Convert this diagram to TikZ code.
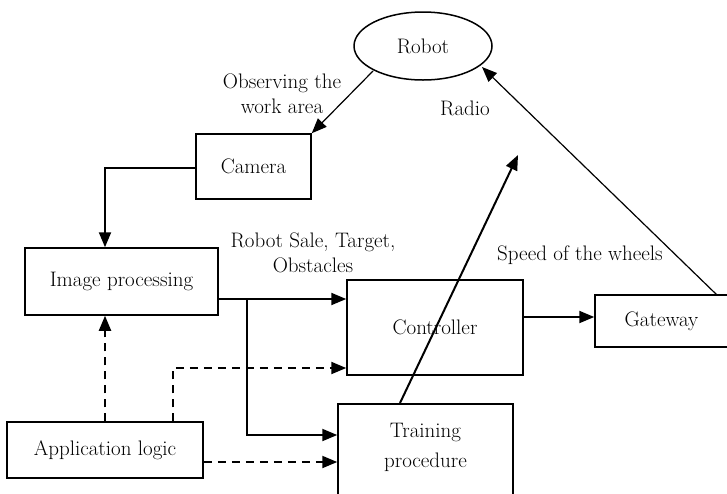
\documentclass[tikz,border=0pt]{standalone}
\usetikzlibrary{arrows.meta,shapes.geometric}
\begin{document}
\begin{tikzpicture}[x=1pt,y=-1pt,
  font=\fontsize{21}{25}\selectfont,
  box/.style={draw,line width=1.5pt,rectangle,inner sep=0pt,align=center},
  flow/.style={line width=2pt,-{Triangle[length=15pt,width=12pt]}},
  ctrl/.style={line width=2pt,dash pattern=on 8pt off 6pt,-{Triangle[length=15pt,width=12pt]}},
  link/.style={line width=1.2pt,-{Triangle[length=15pt,width=12pt]}},
  lbl/.style={align=center,inner sep=0pt}]
\useasboundingbox (0,0) rectangle (727,493);

% blocks
\node[draw,line width=1.5pt,ellipse,minimum width=138pt,minimum height=68pt,inner sep=0pt] (robot) at (423,46) {Robot};
\node[box,minimum width=115pt,minimum height=65pt] (camera) at (253.5,166.5) {Camera};
\node[box,minimum width=193pt,minimum height=67pt] (imgproc) at (121.5,281.5) {Image processing};
\node[box,minimum width=196pt,minimum height=56pt] (applogic) at (105,450) {Application logic};
\node[box,minimum width=176pt,minimum height=95pt] (ctrlr) at (435,327.5) {Controller};
\node[box,minimum width=175pt,minimum height=100pt,anchor=north] (train) at (425.5,403) {};
\node[lbl,font=\fontsize{21}{30}\selectfont] (trainlbl) at (425.5,447) {Training\\procedure};
\node[box,minimum width=133pt,minimum height=52pt] (gateway) at (661.5,321) {Gateway};

% helper points
\coordinate (split) at (247,299);
\coordinate (rs) at (373,71);
\coordinate (gwtop) at (717,295);
\coordinate (radiotip) at (518,155);

% connectors
\draw[link] (rs) -- (camera.north east);
\draw[link] (gwtop) -- (482,67);
\draw[flow] (camera.west |- 0,168) -- (105,168) -- (imgproc.north -| 105,0);
\draw[flow] (imgproc.east |- 0,299) -- (ctrlr.west |- 0,299);
\draw[flow] (split) -- (247,435) -- (train.west |- 0,435);
\draw[ctrl] (applogic.north -| 105,0) -- (imgproc.south -| 105,0);
\draw[ctrl] (applogic.north -| 173,0) -- (173,368) -- (ctrlr.west |- 0,368);
\draw[ctrl] (applogic.east |- 0,462) -- (train.west |- 0,462);
\draw[flow] (ctrlr.east |- 0,317) -- (gateway.west |- 0,317);
\draw[flow] (train.north -| 400,0) -- (radiotip);

% labels
\node[lbl] (obs) at (282,94) {Observing the\\work area};
\node[lbl] (radio) at (465,108) {Radio};
\node[lbl] (rst) at (313,253) {Robot Sale, Target,\\Obstacles};
\node[lbl] (speed) at (580,255) {Speed of the wheels};
\end{tikzpicture}
\end{document}
